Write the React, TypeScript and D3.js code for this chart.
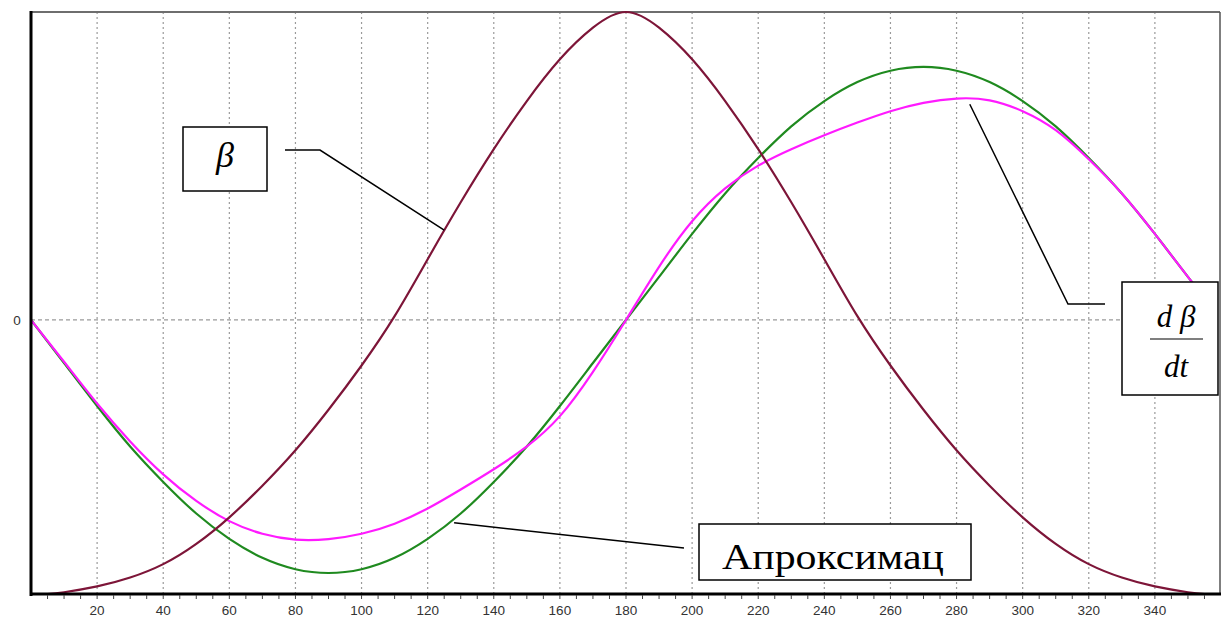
import React from "react";
import * as d3 from "d3";

// angle, degrees
const angGM = [0, 10, 20, 30, 40, 50, 60, 70, 80, 90, 100, 110, 120, 130, 140, 150, 160, 170, 180,
  190, 200, 210, 220, 230, 240, 250, 260, 270, 280, 290, 300, 310, 320, 330, 340, 350, 352];
// dβ/dt (green)
const dBeta = [0, -0.17, -0.34, -0.5, -0.64, -0.765, -0.865, -0.94, -0.985, -1.0, -0.985, -0.94, -0.865, -0.765, -0.64, -0.5, -0.34, -0.17, 0,
  0.17, 0.34, 0.5, 0.64, 0.765, 0.865, 0.94, 0.985, 1.0, 0.985, 0.94, 0.865, 0.765, 0.64, 0.5, 0.34, 0.17, 0.14];
// approximation (magenta)
const approx = [0, -0.165, -0.33, -0.48, -0.61, -0.715, -0.795, -0.845, -0.868, -0.866, -0.845, -0.805, -0.745, -0.67, -0.59, -0.5, -0.38, -0.205, 0,
  0.21, 0.39, 0.52, 0.61, 0.675, 0.73, 0.78, 0.825, 0.858, 0.875, 0.868, 0.825, 0.75, 0.635, 0.5, 0.34, 0.17, 0.14];

const angB = [5, 10, 20, 30, 40, 50, 60, 70, 80, 90, 100, 110, 120, 130, 140, 150, 160, 170, 180,
  190, 200, 210, 220, 230, 240, 250, 260, 270, 280, 290, 300, 310, 320, 330, 340, 350, 355];
const beta = [-1.083, -1.076, -1.053, -1.018, -0.965, -0.885, -0.78, -0.655, -0.515, -0.355, -0.18, 0.015, 0.24, 0.465, 0.675, 0.865, 1.03, 1.155, 1.217,
  1.155, 1.03, 0.865, 0.675, 0.465, 0.24, 0.015, -0.18, -0.355, -0.515, -0.655, -0.78, -0.885, -0.965, -1.018, -1.053, -1.076, -1.083];

const xTicks = [20, 40, 60, 80, 100, 120, 140, 160, 180, 200, 220, 240, 260, 280, 300, 320, 340];

const W = 1223, H = 618;
const left = 31, right = 1220, top = 12, bottom = 594;

export default function App() {
  const x = d3.scaleLinear().domain([0, 360]).range([left, 1221]);
  const y = d3.scaleLinear().domain([-1.083, 1.217]).range([bottom, top]);

  const line = d3.line<[number, number]>()
    .x(d => x(d[0]))
    .y(d => y(d[1]))
    .curve(d3.curveNatural);

  const gPts = angGM.map((a, i) => [a, dBeta[i]] as [number, number]);
  const mPts = angGM.map((a, i) => [a, approx[i]] as [number, number]);
  const bPts = angB.map((a, i) => [a, beta[i]] as [number, number]);

  const minor = d3.range(5, 360, 5);

  // annotation anchors on curves
  const bAnchor = [x(125), y(0.355)];
  const dAnchor = [x(284), y(0.876)];
  const aAnchor = [x(128), y(-0.79)];

  const serif = "'Liberation Serif', 'Times New Roman', serif";
  const sans = "'Liberation Sans', Arial, sans-serif";

  return (
    <svg width={W} height={H} style={{ position: "absolute", left: 0, top: 0, background: "#fff" }}>
      <rect x={0} y={0} width={W} height={H} fill="#fff" />
      {/* grid */}
      {xTicks.map(t => (
        <line key={"g" + t} x1={x(t)} x2={x(t)} y1={top} y2={bottom} stroke="#9a9a9a" strokeWidth={1.2} strokeDasharray="2,3" />
      ))}
      <line x1={left} x2={right} y1={y(0)} y2={y(0)} stroke="#9a9a9a" strokeWidth={1.2} strokeDasharray="4,3" />

      {/* frame */}
      <line x1={left} x2={right} y1={top} y2={top} stroke="#6e6e6e" strokeWidth={2} />
      <line x1={right} x2={right} y1={top} y2={bottom} stroke="#555" strokeWidth={1.5} />

      {/* curves */}
      <path d={line(gPts) || ""} fill="none" stroke="#1f8a1f" strokeWidth={2.2} />
      <path d={line(mPts) || ""} fill="none" stroke="#ff1aff" strokeWidth={2.2} />
      <path d={line(bPts) || ""} fill="none" stroke="#7d1538" strokeWidth={2.2} />

      <line x1={left} x2={left} y1={top - 1} y2={bottom + 2} stroke="#000" strokeWidth={3} />
      <line x1={left} x2={right + 1} y1={bottom} y2={bottom} stroke="#000" strokeWidth={3} />

      {/* ticks */}
      {minor.map(t => (
        <line key={"t" + t} x1={x(t)} x2={x(t)} y1={bottom + 1} y2={bottom + 5} stroke="#444" strokeWidth={1} />
      ))}
      {xTicks.map(t => (
        <text key={"l" + t} x={x(t)} y={615} textAnchor="middle" fontFamily={sans} fontSize={13.5} fill="#333">{t}</text>
      ))}
      <text x={17} y={y(0) + 5} textAnchor="middle" fontFamily={sans} fontSize={13.5} fill="#333">0</text>

      {/* β label */}
      <rect x={183} y={127} width={84} height={64} fill="#fff" stroke="#000" strokeWidth={1.5} />
      <text x={225} y={167} textAnchor="middle" fontFamily={serif} fontStyle="italic" fontSize={36}>β</text>
      <polyline points={`285,150 320,150 ${bAnchor[0]},${bAnchor[1]}`} fill="none" stroke="#000" strokeWidth={1.5} />

      {/* dβ/dt label */}
      <polyline points={`${dAnchor[0]},${dAnchor[1] + 6} 1068,304 1105,304`} fill="none" stroke="#000" strokeWidth={1.5} />
      <rect x={1122} y={282} width={96} height={113} fill="#fff" stroke="#000" strokeWidth={1.5} />
      <text x={1176} y={327} textAnchor="middle" fontFamily={serif} fontStyle="italic" fontSize={31}>d β</text>
      <line x1={1150} x2={1203} y1={339} y2={339} stroke="#000" strokeWidth={1.2} />
      <text x={1176} y={377} textAnchor="middle" fontFamily={serif} fontStyle="italic" fontSize={31}>dt</text>

      {/* Апроксимац label */}
      <line x1={aAnchor[0]} y1={aAnchor[1] + 3} x2={684} y2={548} stroke="#000" strokeWidth={1.5} />
      <rect x={699} y={524} width={272} height={56} fill="#fff" stroke="#000" strokeWidth={1.5} />
      <text x={722} y={569} fontFamily={serif} fontSize={36} textLength={222} lengthAdjust="spacingAndGlyphs">Апроксимац</text>
    </svg>
  );
}
